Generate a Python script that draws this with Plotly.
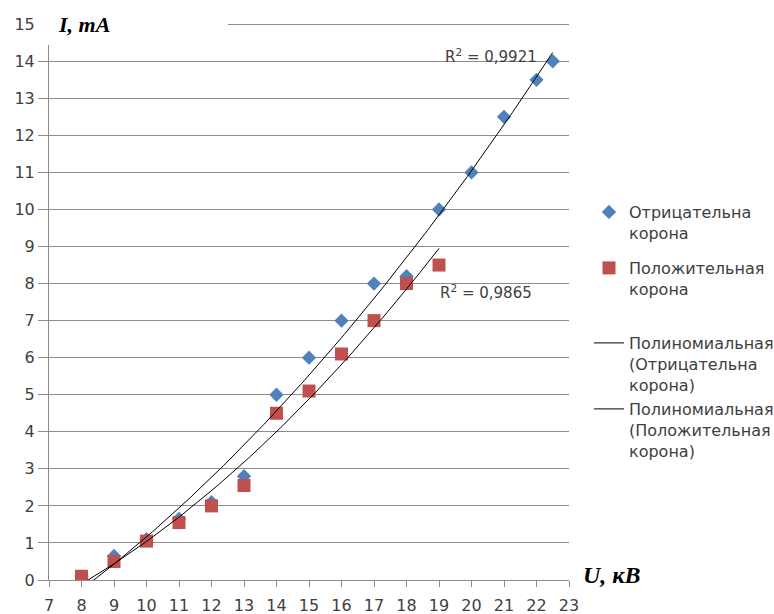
import numpy as np
import plotly.graph_objects as go

# Corona current vs voltage
u_neg = [8, 9, 10, 11, 12, 13, 14, 15, 16, 17, 18, 19, 20, 21, 22, 22.5]
i_neg = [0.1, 0.65, 1.1, 1.65, 2.1, 2.8, 5.0, 6.0, 7.0, 8.0, 8.2, 10.0, 11.0, 12.5, 13.5, 14.0]

u_pos = [8, 9, 10, 11, 12, 13, 14, 15, 16, 17, 18, 19]
i_pos = [0.1, 0.5, 1.05, 1.55, 2.0, 2.55, 4.5, 5.1, 6.1, 7.0, 8.0, 8.5]

r2_neg = "0,9921"
r2_pos = "0,9865"

name_neg = "Отрицательна<br>корона"
name_pos = "Положительная<br>корона"
name_fit_neg = "Полиномиальная<br>(Отрицательна<br>корона)"
name_fit_pos = "Полиномиальная<br>(Положительная<br>корона)"

BLUE = "#4F81BD"
RED = "#C0504D"
GRID = "#8c8c8c"
TXT = "#404040"
FONT = "DejaVu Sans"


def quad_fit(x, y):
    coef = np.polyfit(x, y, 2)
    xs = np.linspace(min(x), max(x), 200)
    return xs, np.polyval(coef, xs)


fx_neg, fy_neg = quad_fit(u_neg, i_neg)
fx_pos, fy_pos = quad_fit(u_pos, i_pos)

fig = go.Figure()
fig.add_trace(go.Scatter(
    x=u_neg, y=i_neg, mode="markers", name=name_neg, legend="legend",
    marker=dict(symbol="diamond", size=11, color=BLUE),
))
fig.add_trace(go.Scatter(
    x=u_pos, y=i_pos, mode="markers", name=name_pos, legend="legend2",
    marker=dict(symbol="square", size=13, color=RED),
))
fig.add_trace(go.Scatter(
    x=fx_neg, y=fy_neg, mode="lines", name=name_fit_neg, legend="legend3",
    line=dict(color="black", width=1),
))
fig.add_trace(go.Scatter(
    x=fx_pos, y=fy_pos, mode="lines", name=name_fit_pos, legend="legend4",
    line=dict(color="black", width=1),
))

H = 614.0
PLOT_TOP, PLOT_BOTTOM = 22, 580
Y_MAX = 15.06


def legend_at(top_px):
    return dict(
        x=589 / 774, xref="container", xanchor="left",
        y=1 - top_px / H, yref="container", yanchor="top",
        font=dict(family=FONT, size=16, color=TXT),
        bgcolor="rgba(0,0,0,0)", borderwidth=0,
        valign="top", itemwidth=30, tracegroupgap=0,
    )


def py(px):
    """Pixel row -> paper y inside the plot area."""
    return (PLOT_BOTTOM - px) / (PLOT_BOTTOM - PLOT_TOP)


fig.update_layout(
    width=774, height=614,
    margin=dict(l=49, r=205, t=PLOT_TOP, b=614 - PLOT_BOTTOM, autoexpand=False),
    paper_bgcolor="white", plot_bgcolor="white",
    font=dict(family=FONT, size=16, color=TXT),
    showlegend=True,
    legend=legend_at(195),
    legend2=legend_at(251),
    legend3=legend_at(326),
    legend4=legend_at(392),
    xaxis=dict(
        range=[7, 23], dtick=1, tick0=7, showgrid=False, zeroline=False,
        showline=True, linecolor=GRID, linewidth=1, automargin=False,
        ticks="outside", ticklen=6, tickcolor=GRID, ticklabelstandoff=5,
        tickfont=dict(family=FONT, size=16, color=TXT),
    ),
    yaxis=dict(
        range=[0, Y_MAX], dtick=1, tick0=0, showgrid=True, gridcolor=GRID,
        gridwidth=1, zeroline=False, automargin=False,
        showline=True, linecolor=GRID, linewidth=1,
        ticks="outside", ticklen=10, tickcolor=GRID,
        tickfont=dict(family=FONT, size=16, color=TXT),
    ),
    shapes=[
        # blank area behind the vertical axis title
        dict(type="rect", xref="paper", yref="paper",
             x0=-0.022, x1=(228 - 49) / 520, y0=py(45), y1=1.1,
             fillcolor="white", line=dict(width=0), layer="above"),
    ],
    annotations=[
        dict(text="<b><i>I, mA</i></b>", xref="paper", yref="paper",
             x=(56 - 49) / 520, y=py(25), xanchor="left", yanchor="middle",
             showarrow=False,
             font=dict(family="Liberation Serif", size=22, color="black")),
        dict(text="<b><i>U, кВ</i></b>", xref="paper", yref="paper",
             x=(581 - 49) / 520, y=py(575), xanchor="left",
             yanchor="middle", showarrow=False,
             font=dict(family="Liberation Serif", size=24, color="black")),
        dict(text="R<sup>2</sup> = " + r2_neg, x=20.6, y=14.13,
             xanchor="center", yanchor="middle", showarrow=False,
             font=dict(family=FONT, size=15, color=TXT)),
        dict(text="R<sup>2</sup> = " + r2_pos, x=20.45, y=7.76,
             xanchor="center", yanchor="middle", showarrow=False,
             font=dict(family=FONT, size=15, color=TXT)),
    ],
)

fig.write_html("out.html")
